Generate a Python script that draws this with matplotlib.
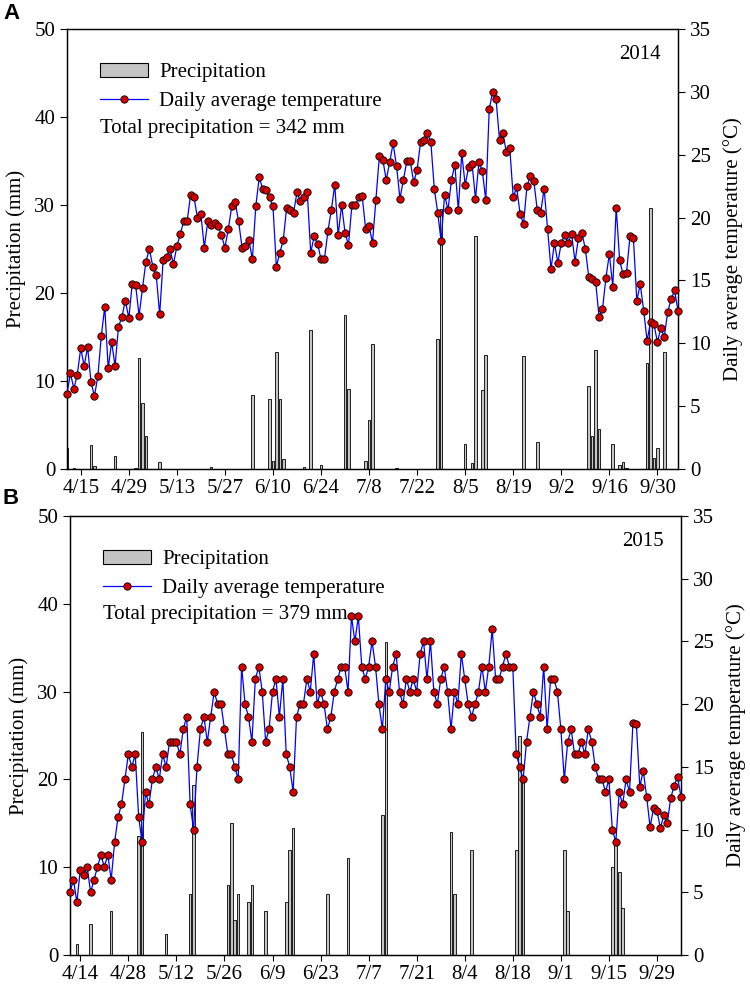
import numpy as np
import matplotlib
matplotlib.use('Agg')
import matplotlib.pyplot as plt
from matplotlib.patches import Patch
from matplotlib.lines import Line2D

plt.rcParams['font.family'] = ['Liberation Serif', 'DejaVu Serif']

# daily average temperature (deg C), one value per day starting 4/11
temp_2014 = [6.0, 7.6, 6.4, 7.5, 9.6, 8.2, 9.7, 6.9, 5.8, 7.4, 10.6, 12.9, 8.0, 10.1, 8.2, 11.3, 12.1, 13.4,
             12.0, 14.7, 14.6, 12.2, 14.4, 16.5, 17.5, 16.1, 15.4, 12.3, 16.6, 16.9, 17.5, 16.3, 17.7, 18.7,
             19.7, 19.7, 21.8, 21.6, 20.0, 20.3, 17.6, 19.7, 19.4, 19.6, 19.3, 18.6, 17.6, 19.1, 20.9, 21.2,
             19.7, 17.6, 17.7, 18.2, 16.7, 20.9, 23.2,
             22.3, 22.2, 21.6, 20.9, 16.1, 17.2, 18.2, 20.8, 20.6, 20.4, 22.0, 21.3, 21.6, 22.0, 17.2, 18.5,
             17.9, 16.7, 16.7, 18.9, 20.6, 22.6, 18.6, 21.0, 18.8, 17.8, 21.0, 21.0, 21.6, 21.7, 19.1, 19.3,
             18.0, 21.4, 24.9, 24.6, 23.0, 24.4, 25.9, 24.1, 21.5, 23.0, 24.5, 24.5, 22.8, 23.8, 26.0, 26.2,
             26.7, 26.0, 22.3, 20.4, 18.1, 21.8, 20.6, 23.0, 24.2, 20.6, 25.1, 22.6, 24.0, 24.3, 21.5, 24.4,
             23.7, 21.4,
             28.6, 30.0, 29.4, 26.2, 26.7, 25.2, 25.5, 21.6, 22.4, 20.3, 19.5, 22.5, 23.3, 22.9, 20.6, 20.4,
             22.3, 19.1, 15.9, 18.0, 16.4, 18.0, 18.6, 18.0, 18.7, 16.5, 18.4, 18.8, 17.5, 15.3, 15.1, 14.9,
             12.1, 12.7, 15.2, 17.1, 14.5, 20.8, 16.6, 15.5, 15.6, 18.5, 18.4, 13.4, 14.7, 12.6, 10.2, 11.7,
             11.5, 10.1, 11.2, 10.5, 12.5, 13.5, 14.2, 12.6]

temp_2015 = [5.0, 6.0, 4.2, 6.8, 6.4, 7.0, 5.0, 6.0, 7.0, 8.0, 7.0, 8.0, 6.0, 9.0, 11.0, 12.0, 14.0, 16.0,
             15.0, 16.0, 11.0, 9.0, 13.0, 12.0, 14.0, 15.0, 14.0, 16.0, 15.0, 17.0, 17.0, 17.0, 16.0, 18.0,
             19.0, 12.0, 10.0, 15.0, 18.0, 19.0, 17.0, 19.0, 21.0, 20.0, 20.0, 18.0, 16.0, 16.0, 15.0, 14.0,
             23.0, 20.0, 19.0, 17.0, 22.0, 23.0, 21.0,
             17.0, 18.0, 21.0, 22.0, 19.0, 22.0, 16.0, 15.0, 13.0, 19.0, 20.0, 20.0, 22.0, 21.0, 24.0, 20.0,
             21.0, 20.0, 18.0, 19.0, 21.0, 22.0, 23.0, 23.0, 21.0, 27.0, 25.0, 27.0, 23.0, 22.0, 23.0, 25.0,
             23.0, 20.0, 18.0, 22.0, 21.0, 23.0, 24.0, 21.0, 20.0, 22.0, 21.0, 22.0, 21.0, 24.0, 25.0, 22.0,
             25.0, 21.0, 20.0, 22.0, 23.0, 21.0, 18.0, 21.0, 20.0, 24.0, 22.0, 20.0,
             19.0, 20.0, 21.0, 23.0, 21.0, 23.0, 26.0, 22.0, 22.0, 23.0, 24.0, 23.0, 23.0, 16.0, 15.0, 14.0,
             17.0, 19.0, 21.0, 20.0, 19.0, 23.0, 18.0, 22.0, 22.0, 21.0, 18.0, 14.0, 17.0, 18.0, 16.0, 16.0,
             17.0, 16.0, 18.0, 17.0, 15.0, 14.0, 14.0, 13.0, 14.0, 10.0, 9.0, 13.0, 12.0, 14.0, 13.0, 18.5,
             18.4, 13.4, 14.7, 12.6, 10.2, 11.7, 11.5, 10.1, 11.2, 10.5, 12.5, 13.5, 14.2, 12.6]

# days with rain and the amount (mm)
rain_days_2014 = ['4/11', '4/13', '4/18', '4/19', '4/25', '5/1', '5/2', '5/3', '5/4', '5/8', '5/23',
                  '6/4', '6/9', '6/10', '6/11', '6/12', '6/13', '6/19', '6/21', '6/24', '7/1', '7/2',
                  '7/7', '7/8', '7/9', '7/16', '7/28', '7/29', '8/5', '8/7', '8/8', '8/10', '8/11',
                  '8/22', '8/26', '9/10', '9/11', '9/12', '9/13', '9/17', '9/19', '9/20', '9/21',
                  '9/27', '9/28', '9/29', '9/30', '10/2']
rain_mm_2014 = [2.4, 0.1, 2.7, 0.3, 1.5, 0.1, 12.6, 7.5, 3.8, 0.8, 0.2,
                8.4, 7.9, 0.9, 13.3, 7.9, 1.1, 0.2, 15.8, 0.5, 17.5, 9.1,
                0.9, 5.6, 14.2, 0.1, 14.8, 29.5, 2.8, 0.7, 26.5, 9.0, 13.0,
                12.8, 3.1, 9.4, 3.8, 13.5, 4.5, 2.8, 0.5, 0.8, 0.1,
                12.1, 29.7, 1.3, 2.4, 13.3]

rain_days_2015 = ['4/13', '4/17', '4/23', '5/1', '5/2', '5/9', '5/16', '5/17', '5/27', '5/28', '5/29',
                  '5/30', '6/2', '6/3', '6/7', '6/13', '6/14', '6/15', '6/25', '7/1', '7/11', '7/12',
                  '7/31', '8/1', '8/6', '8/19', '8/20', '8/21', '9/2', '9/3', '9/16', '9/17', '9/18',
                  '9/19']
rain_mm_2015 = [1.2, 3.5, 5.0, 13.5, 25.4, 2.4, 7.0, 19.4, 8.0, 15.0, 4.0,
                7.0, 6.0, 8.0, 5.0, 6.0, 12.0, 14.5, 7.0, 11.0, 16.0, 35.7,
                14.0, 7.0, 12.0, 12.0, 25.0, 20.0, 12.0, 5.0, 10.0, 12.9, 9.5,
                5.4]

ticks_2014 = ['4/15', '4/29', '5/13', '5/27', '6/10', '6/24', '7/8', '7/22', '8/5', '8/19', '9/2', '9/16', '9/30']
ticks_2015 = ['4/14', '4/28', '5/12', '5/26', '6/9', '6/23', '7/7', '7/21', '8/4', '8/18', '9/1', '9/15', '9/29']


def to_date(year, md):
    m, d = md.split('/')
    return np.datetime64('%d-%02d-%02d' % (year, int(m), int(d)))


def draw_panel(ax, year, temps, rain_days, rain_mm, tick_labels, total):
    days = to_date(year, '4/11') + np.arange(len(temps))
    rdays = np.array([to_date(year, s) for s in rain_days])
    tdays = np.array([to_date(year, s) for s in tick_labels])

    ax.bar(rdays, rain_mm, width=0.75, color='#c4c4c4', edgecolor='black', linewidth=0.6)
    ax.set_ylim(0, 50)
    ax.set_yticks([0, 10, 20, 30, 40, 50])
    ax.set_xlim(days[0], days[-1])
    ax.set_xticks(tdays)
    ax.set_xticklabels(tick_labels)
    ax.set_ylabel('Precipitation (mm)', fontsize=15, labelpad=6)

    ax2 = ax.twinx()
    ax2.plot(days, temps, color='#0000ff', lw=0.9, marker='o', ms=5.3,
             mfc='#d40000', mec='black', mew=0.6, clip_on=False, zorder=3)
    ax2.set_ylim(0, 35)
    ax2.set_yticks([0, 5, 10, 15, 20, 25, 30, 35])
    ax2.set_ylabel('Daily average temperature (\u00b0C)', fontsize=15, labelpad=9)

    for a in (ax, ax2):
        for sp in a.spines.values():
            sp.set_linewidth(0.9)
        a.tick_params(axis='y', direction='out', length=5, width=0.8, labelsize=15)
        a.tick_params(axis='x', direction='out', length=4, width=0.8, labelsize=15, pad=3)

    handles = [Patch(facecolor='#c4c4c4', edgecolor='black', linewidth=0.8),
               Line2D([], [], color='#0000ff', lw=0.9, marker='o', ms=5.3,
                      mfc='#d40000', mec='black', mew=0.6)]
    ax2.legend(handles, ['Precipitation', 'Daily average temperature'], loc='upper left',
               bbox_to_anchor=(0.054, 0.922), frameon=False, fontsize=15, borderpad=0,
               borderaxespad=0, handlelength=2.3, handleheight=0.6, handletextpad=0.55,
               labelspacing=0.45)
    ax2.text(0.054, 0.775, 'Total precipitation = %d mm' % total, transform=ax2.transAxes,
             fontsize=15, va='center', ha='left')
    ax2.text(0.972, 0.942, str(year), transform=ax2.transAxes, fontsize=15,
             va='center', ha='right')


def main():
    fig = plt.figure(figsize=(7.5, 9.88), dpi=100)
    ax_a = fig.add_axes([67 / 750, 1 - 469 / 988, 611 / 750, 440 / 988])
    ax_b = fig.add_axes([70 / 750, 1 - 955 / 988, 611 / 750, 439 / 988])

    draw_panel(ax_a, 2014, temp_2014, rain_days_2014, rain_mm_2014, ticks_2014, 342)
    draw_panel(ax_b, 2015, temp_2015, rain_days_2015, rain_mm_2015, ticks_2015, 379)

    fig.text(3 / 750, 1 - 3 / 988, 'A', fontsize=16, fontweight='bold',
             family='Liberation Sans', va='top', ha='left')
    fig.text(2 / 750, 1 - 488 / 988, 'B', fontsize=16, fontweight='bold',
             family='Liberation Sans', va='top', ha='left')

    fig.savefig('out.png', dpi=100)


if __name__ == '__main__':
    main()
